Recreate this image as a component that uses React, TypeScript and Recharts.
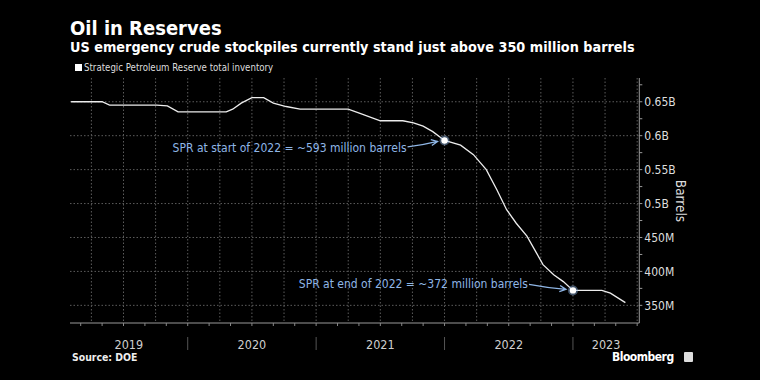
import React from 'react';
import { LineChart, Line, XAxis, YAxis, CartesianGrid, ReferenceDot } from 'recharts';

// x = months since Jan 2019, y = millions of barrels
const months = [1.1, 4.0, 4.7, 9.1, 10.1, 11.1, 15.6, 16.2, 17.0, 18.0, 19.1, 20.0, 21.2, 22.5, 27.0, 28.1, 30.0, 32.1, 33.1, 34.0, 34.9, 36.0, 37.5, 38.7, 39.9, 40.9, 41.8, 42.7, 43.7, 44.6, 45.2, 46.2, 47.1, 48.0, 50.7, 51.5, 52.9];
const barrels = [650, 650, 645, 645, 644, 635, 635, 639, 648, 656, 656, 648, 643, 639, 639, 633, 622, 622, 619, 614, 606, 593, 586, 572, 550, 520, 491, 471, 452, 427, 410, 395, 385, 372, 372, 368, 354];
const yTicks = [350, 375, 400, 425, 450, 475, 500, 525, 550, 575, 600, 625, 650, 675];
const yGrid = [350, 400, 450, 500, 550, 600, 650];
const monthTicks = Array.from({ length: 54 }, (_, i) => i + 1);
const quarterLines = [3, 6, 9, 12, 15, 18, 21, 24, 27, 30, 33, 36, 39, 42, 45, 48, 51, 54];
const yearLabels = ['2019', '2020', '2021', '2022', '2023'];
const yearCenters = [6.5, 18, 30, 42, 51.1];
const yearBreaks = [12, 24, 36, 48];

const data = months.map((m, i) => ({ m, v: barrels[i] }));

const FONT = '"Liberation Sans Narrow", "DejaVu Sans Condensed", "Roboto", sans-serif';
const BOLD = '"DejaVu Sans Condensed", "Liberation Sans Narrow", sans-serif';
const BLUE = '#8fb6e6';

const fmtY = (v: number) => {
  if (v % 50 !== 0) return '';
  return v >= 500 ? `${v / 1000}B` : `${v}M`;
};

const YearTick = (props: any) => {
  const { x, y, payload } = props;
  const v = payload.value;
  if (yearBreaks.includes(v)) {
    return <line x1={x} x2={x} y1={y + 5} y2={y + 18} stroke="#555" strokeWidth={1} />;
  }
  const idx = yearCenters.indexOf(v);
  return (
    <text x={x} y={y + 16.5} textAnchor="middle" fill="#cfcfcf" fontSize={12.5} fontFamily={FONT}>
      {yearLabels[idx]}
    </text>
  );
};

const Marker = (side: 'start' | 'end') => (props: any) => {
  const { cx, cy } = props;
  const start = side === 'start';
  const tx = start ? cx - 38 : cx - 45;
  const ty = start ? cy + 8 : cy - 5.5;
  const ax1 = start ? cx - 37 : cx - 44;
  const ay1 = start ? cy + 6.5 : cy - 6;
  const ax2 = cx - 7;
  const ay2 = start ? cy + 1 : cy - 1;
  const ang = Math.atan2(ay2 - ay1, ax2 - ax1);
  const h = 7;
  const a1 = ang + Math.PI - 0.45;
  const a2 = ang + Math.PI + 0.45;
  return (
    <g>
      <text x={tx} y={ty} textAnchor="end" dominantBaseline="middle" fill={BLUE} fontSize={12} fontFamily={FONT}>
        {start ? 'SPR at start of 2022 = ~593 million barrels' : 'SPR at end of 2022 = ~372 million barrels'}
      </text>
      <path
        d={`M${ax1},${ay1} Q${(ax1 + ax2) / 2},${(ay1 + ay2) / 2 + 1} ${ax2},${ay2} M${ax2 + h * Math.cos(a1)},${ay2 + h * Math.sin(a1)} L${ax2},${ay2} L${ax2 + h * Math.cos(a2)},${ay2 + h * Math.sin(a2)}`}
        fill="none"
        stroke={BLUE}
        strokeWidth={1.3}
      />
      <circle cx={cx} cy={cy} r={5} fill={BLUE} opacity={0.45} />
      <circle cx={cx} cy={cy} r={3.2} fill="#ffffff" />
    </g>
  );
};

export default function App() {
  return (
    <div style={{ position: 'fixed', left: 0, top: 0, width: 760, height: 380, background: '#000', fontFamily: FONT, overflow: 'hidden' }}>
      <div style={{ position: 'absolute', left: 70, top: 16, color: '#fff', fontWeight: 700, fontSize: 20, fontFamily: BOLD }}>
        Oil in Reserves
      </div>
      <div style={{ position: 'absolute', left: 70, top: 39, color: '#fff', fontWeight: 700, fontSize: 14.3, fontFamily: BOLD, whiteSpace: 'nowrap' }}>
        US emergency crude stockpiles currently stand just above 350 million barrels
      </div>
      <div style={{ position: 'absolute', left: 75, top: 62, display: 'flex', alignItems: 'center', color: '#ddd', fontSize: 9.6 }}>
        <span style={{ display: 'inline-block', width: 7, height: 7, background: '#fff', marginRight: 2 }} />
        Strategic Petroleum Reserve total inventory
      </div>

      <LineChart width={760} height={380} data={data} margin={{ top: 78, left: 70, right: 60.7, bottom: 0 }} style={{ position: 'absolute', left: 0, top: 0 }}>
        <CartesianGrid
          xAxisId="m"
          yAxisId="v"
          stroke="#5c5c5c"
          strokeDasharray="1.5 2"
          horizontalValues={yGrid}
          verticalValues={quarterLines}
        />
        <XAxis
          xAxisId="m"
          dataKey="m"
          type="number"
          domain={[1, 54.2]}
          ticks={monthTicks}
          tick={() => <g />}
          tickSize={3}
          tickLine={{ stroke: '#888' }}
          axisLine={{ stroke: '#999' }}
          height={1}
          allowDataOverflow
        />
        <XAxis
          xAxisId="y"
          dataKey="m"
          type="number"
          domain={[1, 54.2]}
          ticks={[...yearCenters, ...yearBreaks].sort((a, b) => a - b)}
          tick={<YearTick />}
          tickLine={false}
          axisLine={false}
          height={56}
          interval={0}
          allowDataOverflow
        />
        <YAxis
          yAxisId="v"
          orientation="right"
          type="number"
          domain={[324, 685]}
          ticks={yTicks}
          tickFormatter={fmtY}
          tick={{ fill: '#dedede', fontSize: 12, fontFamily: FONT }}
          tickSize={3}
          tickLine={{ stroke: '#999' }}
          axisLine={{ stroke: '#999' }}
          width={60}
          interval={0}
          allowDataOverflow
        />
        <Line
          xAxisId="m"
          yAxisId="v"
          type="linear"
          dataKey="v"
          stroke="#ececec"
          strokeWidth={1.3}
          dot={false}
          isAnimationActive={false}
        />
        <ReferenceDot xAxisId="m" yAxisId="v" x={36} y={593} shape={Marker('start')} />
        <ReferenceDot xAxisId="m" yAxisId="v" x={48} y={372} shape={Marker('end')} />
      </LineChart>

      <div style={{ position: 'absolute', left: 681, top: 201, transform: 'translate(-50%, -50%) rotate(90deg)', color: '#ddd', fontSize: 13.5, whiteSpace: 'nowrap' }}>
        Barrels
      </div>
      <div style={{ position: 'absolute', left: 72, top: 351, color: '#eee', fontWeight: 700, fontSize: 10.4, fontFamily: BOLD }}>
        Source: DOE
      </div>
      <div style={{ position: 'absolute', left: 612, top: 350, color: '#fff', fontSize: 12, fontFamily: BOLD, fontWeight: 700, display: 'flex', alignItems: 'center', letterSpacing: -0.5 }}>
        Bloomberg
        <span style={{ display: 'inline-block', width: 9, height: 10, background: '#ddd', marginLeft: 10, borderRadius: 1 }} />
      </div>
    </div>
  );
}
